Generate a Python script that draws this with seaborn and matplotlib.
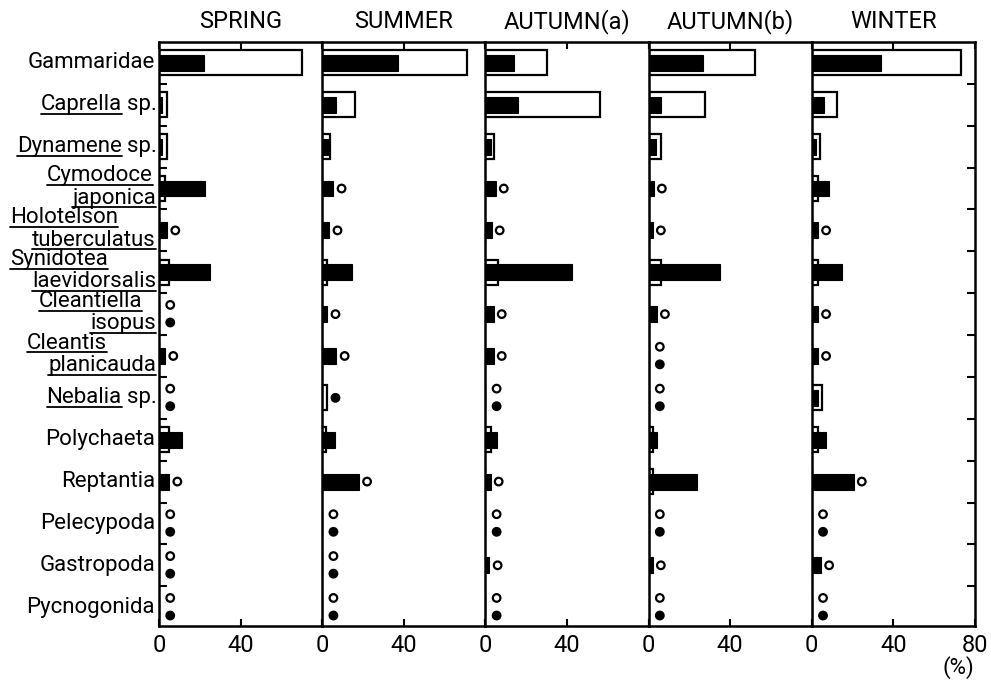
import numpy as np
import pandas as pd
import matplotlib
matplotlib.use("Agg")
import matplotlib.pyplot as plt
from matplotlib.lines import Line2D
from matplotlib.transforms import blended_transform_factory
import seaborn as sns

# Taxa, top to bottom
taxa = ["Gammaridae", "Caprella sp.", "Dynamene sp.", "Cymodoce japonica",
        "Holotelson tuberculatus", "Synidotea laevidorsalis", "Cleantiella isopus",
        "Cleantis planicauda", "Nebalia sp.", "Polychaeta", "Reptantia",
        "Pelecypoda", "Gastropoda", "Pycnogonida"]

seasons = ["SPRING", "SUMMER", "AUTUMN(a)", "AUTUMN(b)", "WINTER"]

# Percentage composition: open bars and filled bars for each season
spring_open = [70, 4, 4, 3, 0, 5, 0, 0, 0, 5, 0, 0, 0, 0]
spring_filled = [22, 1.5, 1.5, 22.5, 4, 25, 0, 3, 0, 11.5, 5, 0, 0, 0]

summer_open = [71, 16, 4, 0, 0, 2.5, 0, 0, 2.5, 2, 0, 0, 0, 0]
summer_filled = [37, 7, 3, 5.5, 3.5, 14.5, 2.5, 7, 0, 6.5, 18, 0, 0, 0]

autumn_a_open = [30, 56, 4, 0, 0, 6, 0, 0, 0, 2.5, 0, 0, 0, 0]
autumn_a_filled = [14, 16, 2.5, 5, 3, 42.5, 4, 4, 0, 5.5, 2.5, 0, 2, 0]

autumn_b_open = [52, 27.5, 6, 0, 0, 6, 0, 0, 0, 2, 2, 0, 0, 0]
autumn_b_filled = [26.5, 6, 3.5, 2.5, 2, 35, 4, 0, 0, 4, 23.5, 0, 2, 0]

winter_open = [73, 12.5, 4, 3, 0, 3, 0, 0, 5, 3, 0, 0, 0, 0]
winter_filled = [34, 6, 2, 8.5, 3, 15, 3, 3, 3, 7, 20.5, 0, 4.5, 0]

open_values = [spring_open, summer_open, autumn_a_open, autumn_b_open, winter_open]
filled_values = [spring_filled, summer_filled, autumn_a_filled, autumn_b_filled, winter_filled]

x_ticks = [0, 40, 80]
x_tick_labels = ["0", "40", "80"]

sns.set_theme(style="white")
plt.rcParams["font.family"] = ["Roboto", "DejaVu Sans"]
plt.rcParams["axes.linewidth"] = 1.8
for key in ["text.color", "axes.labelcolor", "xtick.color", "ytick.color",
            "axes.edgecolor"]:
    plt.rcParams[key] = "black"

W, H = 991, 681
fig, axes = plt.subplots(1, 5, figsize=(W / 100, H / 100), dpi=100)
fig.subplots_adjust(left=159 / W, right=975 / W, top=1 - 42 / H,
                    bottom=1 - 626 / H, wspace=0)

rows = np.arange(len(taxa))
boundaries = np.arange(0.5, len(taxa) - 1, 1.0)
FS = 16

for i, (ax, season, ov, fv) in enumerate(zip(axes, seasons, open_values, filled_values)):
    last = i == len(seasons) - 1
    df = pd.DataFrame({"row": rows, "open": ov, "filled": fv})

    sns.barplot(data=df, x="open", y="row", orient="h", native_scale=True,
                width=0.6, color="white", edgecolor="black", linewidth=1.6,
                saturation=1, errorbar=None, ax=ax)
    sns.barplot(data=df, x="filled", y="row", orient="h", native_scale=True,
                width=0.38, color="black", edgecolor="black", linewidth=0.8,
                saturation=1, errorbar=None, ax=ax)

    # Small circles mark a zero share
    pts = []
    for r, o, f in zip(rows, ov, fv):
        if o == 0 and f == 0:
            pts.append((5.5, r - 0.22, "open"))
            pts.append((5.5, r + 0.2, "filled"))
        elif o == 0:
            pts.append((f + 4, r, "open"))
        elif f == 0:
            pts.append((o + 4, r, "filled"))
    if pts:
        pdf = pd.DataFrame(pts, columns=["x", "y", "kind"])
        sns.scatterplot(data=pdf, x="x", y="y", hue="kind",
                        palette={"open": "white", "filled": "black"},
                        edgecolor="black", linewidth=1.6, s=30,
                        legend=False, ax=ax, zorder=5)

    ax.set_xlim(0, 80)
    ax.set_ylim(len(taxa) - 0.55, -0.5)
    ax.set_xlabel("")
    ax.set_ylabel("")
    ax.set_xticks(x_ticks)
    ax.set_xticklabels(x_tick_labels if last else x_tick_labels[:2] + [""])
    ax.tick_params(axis="x", direction="in", top=True, bottom=True, length=5,
                   width=1.5, color="black", labelsize=FS + 1, pad=6)
    ax.set_yticks(boundaries)
    ax.set_yticklabels([])
    ax.tick_params(axis="y", direction="in", length=6, width=1.5, color="black",
                   left=(i == 0), right=last, labelleft=False, labelright=False)
    ax.set_title(season, fontsize=FS + 1, pad=10)
    for side in ["top", "bottom", "left"]:
        ax.spines[side].set_visible(True)
        ax.spines[side].set_color("black")
        ax.spines[side].set_linewidth(1.8)
    ax.spines["right"].set_visible(last)
    ax.spines["right"].set_color("black")
    ax.spines["right"].set_linewidth(1.8)

# Category labels: binomials underlined, split over two lines
ax0 = axes[0]
blend = blended_transform_factory(fig.transFigure, ax0.transData)
first_line_right = {"Cymodoce japonica": 153, "Holotelson tuberculatus": 118,
                    "Synidotea laevidorsalis": 108, "Cleantiella isopus": 142,
                    "Cleantis planicauda": 107}
underlined = []
for r, name in zip(rows, taxa):
    if " " not in name:
        ax0.text(155 / W, r, name, transform=blend, ha="right", va="center",
                 fontsize=FS, clip_on=False)
    elif name.endswith(" sp."):
        genus = name[:-4]
        sp = ax0.text(157 / W, r, "sp.", transform=blend, ha="right",
                      va="center", fontsize=FS, clip_on=False)
        g = ax0.annotate(genus, xy=(0, 0), xycoords=sp, xytext=(-4, 0),
                         textcoords="offset points", ha="right", va="bottom",
                         fontsize=FS, annotation_clip=False)
        underlined.append(g)
    else:
        genus, species = name.split(" ")
        t1 = ax0.text(first_line_right[name] / W, r - 0.3, genus, transform=blend,
                      ha="right", va="center", fontsize=FS, clip_on=False)
        t2 = ax0.text(156 / W, r + 0.23, species, transform=blend, ha="right",
                      va="center", fontsize=FS, clip_on=False)
        underlined += [t1, t2]

fig.text(958 / W, 1 - 668 / H, "(%)", ha="center", va="center", fontsize=FS)

fig.canvas.draw()
renderer = fig.canvas.get_renderer()
for t in underlined:
    bb = t.get_window_extent(renderer)
    y = bb.y0 + 1.5
    fig.add_artist(Line2D([bb.x0 / W, bb.x1 / W], [y / H, y / H],
                          transform=fig.transFigure, color="black", lw=1.3))

fig.savefig("out.png", dpi=100, facecolor="white")
